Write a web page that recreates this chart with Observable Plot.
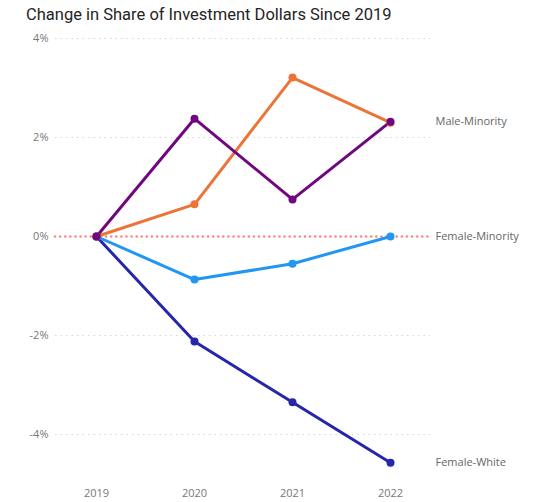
<!DOCTYPE html>
<html>
<head>
<meta charset="utf-8">
<script src="https://cdn.jsdelivr.net/npm/d3@7"></script>
<script src="https://cdn.jsdelivr.net/npm/@observablehq/plot@0.6"></script>
<style>
  html, body { margin: 0; padding: 0; background: #fff; }
  #title { height: 30px; box-sizing: border-box; padding: 5px 0 0 26px; font-family: Roboto, "Noto Sans", sans-serif; font-size: 16.5px; font-weight: 400; color: #252423; white-space: nowrap; }
  #chart svg { display: block; }
</style>
</head>
<body>
<div id="title">Change in Share of Investment Dollars Since 2019</div>
<div id="chart"></div>
<script>
const years = ["2019", "2020", "2021", "2022"];
const seriesNames = ["Female-White", "Female-Minority", "Male-White", "Male-Minority"];
const femaleWhite = [0, -2.12, -3.35, -4.57];
const femaleMinority = [0, -0.87, -0.55, 0];
const maleWhite = [0, 0.65, 3.21, 2.30];
const maleMinority = [0, 2.38, 0.75, 2.32];
const seriesColors = ["#2526A9", "#2196F3", "#EC7437", "#71077F"];
const labeledSeries = ["Male-Minority", "Female-Minority", "Female-White"];
const yTicks = [-4, -2, 0, 2, 4];

const valuesBySeries = [femaleWhite, femaleMinority, maleWhite, maleMinority];
const rows = [];
seriesNames.forEach((s, i) => {
  years.forEach((y, j) => rows.push({series: s, year: y, value: valuesBySeries[i][j]}));
});
const lastRows = rows.filter(d => d.year === years[years.length - 1] && labeledSeries.includes(d.series));

const chart = Plot.plot({
  width: 533,
  height: 472,
  marginLeft: 55,
  marginRight: 103,
  marginTop: 8,
  marginBottom: 18.5,
  style: {fontFamily: "'Open Sans', Roboto, sans-serif", fontSize: "11px", color: "#777"},
  x: {type: "point", domain: years, padding: 0.413, label: null, tickSize: 0, tickPadding: 5},
  y: {domain: [-5, 4], ticks: yTicks, label: null, tickSize: 0, tickPadding: 7, tickFormat: d => d + "%"},
  color: {domain: seriesNames, range: seriesColors},
  marks: [
    Plot.ruleY(yTicks.filter(t => t !== 0), {stroke: "#d6d6d6", strokeDasharray: "1.5,4", strokeWidth: 1}),
    Plot.ruleY([0], {stroke: "#FF6E6E", strokeWidth: 2.5, strokeDasharray: "0.1,5", strokeLinecap: "round", strokeOpacity: 0.85}),
    Plot.line(rows, {x: "year", y: "value", z: "series", stroke: "series", strokeWidth: 3}),
    Plot.dot(rows, {x: "year", y: "value", fill: "series", r: 4}),
    Plot.text(lastRows, {x: "year", y: "value", text: "series", textAnchor: "start", dx: 45, fill: "#666", fontSize: 11})
  ]
});
document.getElementById("chart").appendChild(chart);
</script>
</body>
</html>
